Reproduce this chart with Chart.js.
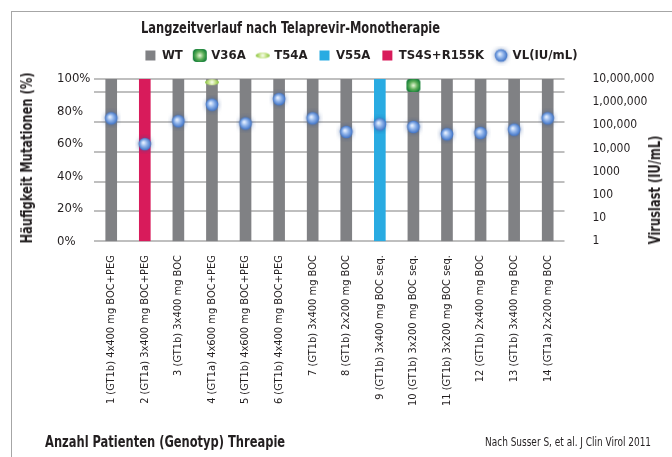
<!DOCTYPE html>
<html>
<head>
<meta charset="utf-8">
<script src="https://cdn.jsdelivr.net/npm/chart.js@4"></script>
<style>
  body { margin: 0; background: #fff; }
  #wrap { position: relative; width: 672px; height: 457px; overflow: hidden; }
  #frame { position: absolute; left: 11px; top: 11px; width: 700px; height: 470px; border: 1px solid #a6a6a6; box-sizing: border-box; }
  canvas { position: absolute; left: 0; top: 0; }
  .t { position: absolute; white-space: nowrap; color: #231f20;
       font-family: 'Liberation Sans Narrow', 'DejaVu Sans Condensed', 'Noto Sans', sans-serif; }
  .b { font-weight: bold; font-size: 15px; line-height: 18px; }
  #title { left: 141px; top: 19px; transform: scaleX(0.85); transform-origin: left center; }
  #xtitle { left: 45px; top: 433px; transform: scaleX(0.85); transform-origin: left center; }
  #ltitle { left: 27px; top: 158px; transform: translate(-50%, -50%) rotate(-90deg) scaleX(0.85); }
  #rtitle { left: 655px; top: 190px; transform: translate(-50%, -50%) rotate(-90deg) scaleX(0.85); }
  #src { right: 21px; top: 435px; font-size: 12px; line-height: 14px; transform: scaleX(0.83); transform-origin: right center; }
</style>
</head>
<body>
<div id="wrap">
  <div id="frame"></div>
  <canvas id="chart" width="672" height="457"></canvas>
  <div id="title" class="t b">Langzeitverlauf nach Telaprevir-Monotherapie</div>
  <div id="ltitle" class="t b">Häufigkeit Mutationen (%)</div>
  <div id="rtitle" class="t b">Viruslast (IU/mL)</div>
  <div id="xtitle" class="t b">Anzahl Patienten (Genotyp) Threapie</div>
  <div id="src" class="t">Nach Susser S, et al. J Clin Virol 2011</div>
</div>
<script>
const categories = [
  '1 (GT1b) 4x400 mg BOC+PEG',
  '2 (GT1a) 3x400 mg BOC+PEG',
  '3 (GT1b) 3x400 mg BOC',
  '4 (GT1a) 4x600 mg BOC+PEG',
  '5 (GT1b) 4x600 mg BOC+PEG',
  '6 (GT1b) 4x400 mg BOC+PEG',
  '7 (GT1b) 3x400 mg BOC',
  '8 (GT1b) 2x200 mg BOC',
  '9 (GT1b) 3x400 mg BOC seq.',
  '10 (GT1b) 3x200 mg BOC seq.',
  '11 (GT1b) 3x200 mg BOC seq.',
  '12 (GT1b) 2x400 mg BOC',
  '13 (GT1b) 3x400 mg BOC',
  '14 (GT1a) 2x200 mg BOC'
];

// mutation frequency (%)
const wtValues    = [100, null, 100, 100, 100, 100, 100, 100, null, 100, 100, 100, 100, 100];
const v36aValues  = [null, null, null, null, null, null, null, null, null, 96, null, null, null, null];
const t54aValues  = [null, null, null, 98, null, null, null, null, null, null, null, null, null, null];
const v55aValues  = [null, null, null, null, null, null, null, null, 100, null, null, null, null, null];
const ts4sValues  = [null, 100, null, null, null, null, null, null, null, null, null, null, null, null];

// viral load (IU/mL)
const vlValues = [200000, 15500, 150000, 780000, 120000, 1350000, 200000, 52000, 110000, 85000, 41000, 47000, 65000, 200000];

const percentTicks = [0, 20, 40, 60, 80, 100];
const vlTicks = [1, 10, 100, 1000, 10000, 100000, 1000000, 10000000];

const FONT = "'Liberation Sans Narrow', 'DejaVu Sans Condensed', 'Noto Sans', sans-serif";
const TEXT = '#231f20';

// little marker images
function marker(w, h, draw) {
  const c = document.createElement('canvas');
  c.width = w; c.height = h;
  draw(c.getContext('2d'), w, h);
  return c;
}

const vlMarker = marker(20, 20, (ctx) => {
  const g = ctx.createRadialGradient(8.5, 8.5, 0.5, 10, 10, 6.5);
  g.addColorStop(0, '#e6f0ff');
  g.addColorStop(0.45, '#8fb3ea');
  g.addColorStop(1, '#3a6fc4');
  ctx.shadowColor = 'rgba(40, 80, 150, 0.6)';
  ctx.shadowBlur = 5;
  ctx.fillStyle = g;
  ctx.beginPath();
  ctx.arc(10, 10, 6.3, 0, Math.PI * 2);
  ctx.fill();
});

const v36aMarker = marker(16, 15, (ctx) => {
  const g = ctx.createRadialGradient(8, 7.5, 0.5, 8, 7.5, 7.5);
  g.addColorStop(0, '#d9efc9');
  g.addColorStop(0.5, '#5fb05a');
  g.addColorStop(1, '#107c35');
  ctx.fillStyle = g;
  ctx.beginPath();
  ctx.roundRect(1, 1, 14, 13, 4);
  ctx.fill();
});

const t54aMarker = marker(16, 8, (ctx) => {
  const g = ctx.createRadialGradient(8, 4, 0.5, 8, 4, 7);
  g.addColorStop(0, '#f4fbe4');
  g.addColorStop(0.5, '#bfe07f');
  g.addColorStop(1, '#82bf3a');
  ctx.fillStyle = g;
  ctx.beginPath();
  ctx.ellipse(8, 4, 7, 3, 0, 0, Math.PI * 2);
  ctx.fill();
});

Chart.defaults.font.family = FONT;
Chart.defaults.color = TEXT;

const barStyle = { type: 'bar', grouped: false, barThickness: 11, pointStyle: 'rect', order: 2 };
const dotStyle = { type: 'line', showLine: false, order: 1, pointHoverRadius: 6 };

new Chart(document.getElementById('chart'), {
  data: {
    labels: categories,
    datasets: [
      { ...barStyle, label: 'WT', data: wtValues, backgroundColor: '#808184' },
      { ...dotStyle, label: 'V36A', data: v36aValues, pointStyle: v36aMarker, yAxisID: 'y' },
      { ...dotStyle, label: 'T54A', data: t54aValues, pointStyle: t54aMarker, yAxisID: 'y' },
      { ...barStyle, label: 'V55A', data: v55aValues, backgroundColor: '#29abe2' },
      { ...barStyle, label: 'TS4S+R155K', data: ts4sValues, backgroundColor: '#d81b5b' },
      { ...dotStyle, label: 'VL(IU/mL)', data: vlValues, pointStyle: vlMarker, yAxisID: 'yR', order: 0 }
    ]
  },
  options: {
    responsive: false,
    animation: false,
    layout: { padding: { left: 57, right: 6, top: 37, bottom: 37 } },
    plugins: {
      title: { display: false },
      tooltip: { enabled: false },
      legend: {
        position: 'top',
        align: 'center',
        labels: {
          usePointStyle: true,
          boxWidth: 10,
          boxHeight: 10,
          padding: 12,
          color: TEXT,
          font: { size: 13, weight: 'bold' },
          sort: (a, b) => a.datasetIndex - b.datasetIndex
        }
      }
    },
    scales: {
      x: {
        grid: { display: false, drawTicks: false },
        border: { display: false },
        ticks: {
          autoSkip: false,
          minRotation: 90,
          maxRotation: 90,
          padding: 14,
          color: TEXT,
          font: { size: 11 }
        }
      },
      // empty top axis, only keeps a small gap under the legend
      xTop: {
        type: 'category',
        position: 'top',
        grid: { display: false, drawTicks: false },
        border: { display: false },
        ticks: { display: false },
        afterFit: (axis) => { axis.height = 7; }
      },
      y: {
        position: 'left',
        min: 0,
        max: 100,
        afterBuildTicks: (axis) => { axis.ticks = percentTicks.map(v => ({ value: v })); },
        grid: { display: false, drawTicks: false },
        border: { display: false },
        ticks: {
          autoSkip: false,
          crossAlign: 'far',
          padding: 2,
          color: TEXT,
          font: { size: 13 },
          callback: (v) => v + '%'
        }
      },
      g: {
        // the plot's gridlines do not line up with either axis
        type: 'linear',
        position: 'left',
        min: 0,
        max: 5.45,
        ticks: { display: false, stepSize: 1 },
        grid: { color: '#bfbfbf', lineWidth: 2, drawTicks: false },
        border: { display: false }
      },
      yR: {
        type: 'logarithmic',
        position: 'right',
        min: 1,
        max: 10000000,
        afterBuildTicks: (axis) => { axis.ticks = vlTicks.map(v => ({ value: v })); },
        grid: { display: false, drawTicks: false },
        border: { display: false },
        ticks: {
          autoSkip: false,
          padding: 28,
          color: TEXT,
          font: { size: 12 },
          callback: (v) => v >= 10000 ? v.toLocaleString('en-US') : String(v)
        }
      }
    }
  }
});
</script>
</body>
</html>
